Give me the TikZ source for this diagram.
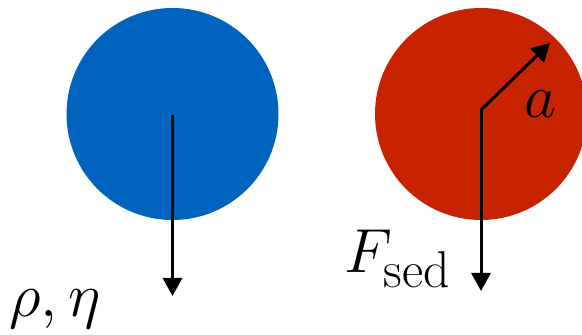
\documentclass[tikz,border=0pt]{standalone}
\usepackage{graphicx}
\usetikzlibrary{arrows.meta}
\definecolor{ballblue}{RGB}{0,99,190}
\definecolor{ballred}{RGB}{200,35,0}
\newcommand{\biglbl}[1]{\scalebox{1.25}{\fontsize{24.88}{30}\selectfont #1}}
\begin{document}
\begin{tikzpicture}[x=0.5pt,y=-0.5pt,
  ball/.style={circle,inner sep=0pt,minimum size=106pt},
  force/.style={line width=1.5pt,-{Triangle[width=9.5pt,length=9pt]}},
  lbl/.style={inner sep=0pt}]
\clip (0,0) rectangle (582,335);
\useasboundingbox (0,0) rectangle (582,335);
\node[ball,fill=ballblue] (blue) at (172.5,114) {};
\node[ball,fill=ballred] (red) at (481,114) {};
\coordinate (bc) at (172.5,115);
\coordinate (bend) at (172.5,296);
\coordinate (rc) at (481,110);
\coordinate (rend) at (481,291);
\coordinate (rtip) at (550,43);
\draw[force] (bc) -- (bend);
\draw[force] (rc) -- (rend);
\draw[force] (rc) -- (rtip);
\node[lbl] (a) at (540,104) {\biglbl{$a$}};
\node[lbl] (F) at (398,259) {\biglbl{$F_{\mathrm{sed}}$}};
\node[lbl] (rho) at (55,309) {\biglbl{$\rho,\eta$}};
\end{tikzpicture}
\end{document}
